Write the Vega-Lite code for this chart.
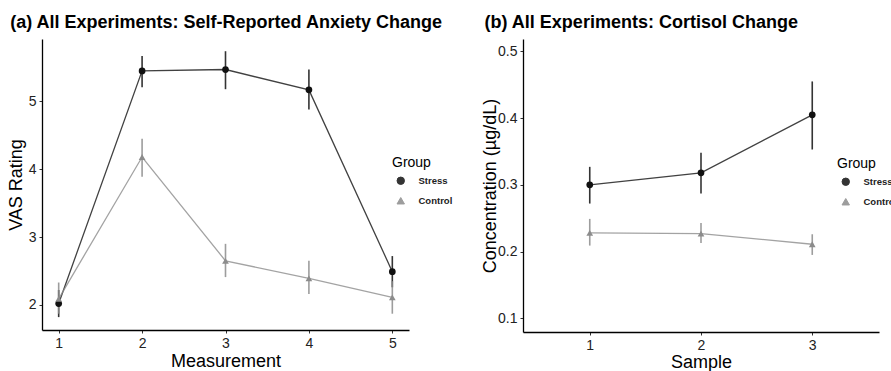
{
  "$schema": "https://vega.github.io/schema/vega-lite/v6.json",
  "padding": {"left": 7, "top": 14, "right": 0, "bottom": 0},
  "background": "white",
  "config": {
    "font": "Liberation Sans",
    "view": {"stroke": null},
    "axis": {"grid": false, "domainColor": "#000", "domainWidth": 1.3, "tickColor": "#333", "tickSize": 3, "tickWidth": 1, "labelFontSize": 14, "labelColor": "#222", "labelPadding": 3, "titleFontSize": 18, "titleFontWeight": "normal", "titleColor": "#000"},
    "title": {"fontSize": 18, "fontWeight": "bold", "anchor": "start", "frame": "bounds", "color": "#000", "offset": 7, "dx": 3},
    "legend": {"titleFontSize": 14, "titleFontWeight": "normal", "titleColor": "#000", "titlePadding": 6, "labelFontSize": 9.5, "labelFontWeight": "bold", "labelColor": "#222", "labelOffset": 13, "rowPadding": 8, "symbolSize": 55, "symbolStrokeWidth": 1, "symbolOffset": 4},
    "concat": {"spacing": 28}
  },
  "datasets": {
    "anx": [
      {"Measurement": 1, "Group": "Stress", "mean": 2.02, "lo": 1.82, "hi": 2.22},
      {"Measurement": 2, "Group": "Stress", "mean": 5.45, "lo": 5.21, "hi": 5.67},
      {"Measurement": 3, "Group": "Stress", "mean": 5.47, "lo": 5.18, "hi": 5.74},
      {"Measurement": 4, "Group": "Stress", "mean": 5.17, "lo": 4.88, "hi": 5.47},
      {"Measurement": 5, "Group": "Stress", "mean": 2.49, "lo": 2.26, "hi": 2.72},
      {"Measurement": 1, "Group": "Control", "mean": 2.09, "lo": 1.87, "hi": 2.33},
      {"Measurement": 2, "Group": "Control", "mean": 4.18, "lo": 3.89, "hi": 4.45},
      {"Measurement": 3, "Group": "Control", "mean": 2.65, "lo": 2.41, "hi": 2.9},
      {"Measurement": 4, "Group": "Control", "mean": 2.39, "lo": 2.16, "hi": 2.65},
      {"Measurement": 5, "Group": "Control", "mean": 2.11, "lo": 1.87, "hi": 2.35}
    ],
    "cort": [
      {"Sample": 1, "Group": "Stress", "mean": 0.3, "lo": 0.272, "hi": 0.327},
      {"Sample": 2, "Group": "Stress", "mean": 0.318, "lo": 0.287, "hi": 0.348},
      {"Sample": 3, "Group": "Stress", "mean": 0.405, "lo": 0.353, "hi": 0.455},
      {"Sample": 1, "Group": "Control", "mean": 0.228, "lo": 0.209, "hi": 0.249},
      {"Sample": 2, "Group": "Control", "mean": 0.227, "lo": 0.213, "hi": 0.243},
      {"Sample": 3, "Group": "Control", "mean": 0.211, "lo": 0.195, "hi": 0.226}
    ]
  },
  "hconcat": [
    {
      "title": {"text": "(a) All Experiments: Self-Reported Anxiety Change"},
      "width": 367,
      "height": 291,
      "data": {"name": "anx"},
      "encoding": {
        "x": {"field": "Measurement", "type": "quantitative", "scale": {"domain": [0.8, 5.2], "nice": false, "zero": false}, "axis": {"values": [1, 2, 3, 4, 5], "title": "Measurement", "titlePadding": 2}},
        "color": {"field": "Group", "type": "nominal", "scale": {"domain": ["Stress", "Control"], "range": ["#111111", "#8c8c8c"]}, "legend": {"title": "Group", "orient": "none", "legendX": 350, "legendY": 117}}
      },
      "layer": [
        {"mark": {"type": "rule", "strokeWidth": 1.6, "opacity": 0.85},
         "encoding": {"y": {"field": "lo", "type": "quantitative", "scale": {"domain": [1.63, 5.92], "nice": false, "zero": false}, "axis": {"values": [2, 3, 4, 5], "format": "d", "title": "VAS Rating", "titlePadding": 3}}, "y2": {"field": "hi"}}},
        {"mark": {"type": "line", "strokeWidth": 1.3, "opacity": 0.8},
         "encoding": {"y": {"field": "mean", "type": "quantitative"}}},
        {"mark": {"type": "point", "filled": true, "size": 45, "opacity": 1},
         "encoding": {"y": {"field": "mean", "type": "quantitative"}, "shape": {"field": "Group", "type": "nominal", "scale": {"domain": ["Stress", "Control"], "range": ["circle", "triangle-up"]}, "legend": {"title": "Group", "orient": "none", "legendX": 350, "legendY": 117}}}}
      ]
    },
    {
      "title": {"text": "(b) All Experiments: Cortisol Change"},
      "width": 356,
      "height": 293,
      "data": {"name": "cort"},
      "encoding": {
        "x": {"field": "Sample", "type": "quantitative", "scale": {"domain": [0.4, 3.6], "nice": false, "zero": false}, "axis": {"values": [1, 2, 3], "title": "Sample", "titlePadding": 1}},
        "color": {"field": "Group", "type": "nominal", "scale": {"domain": ["Stress", "Control"], "range": ["#111111", "#8c8c8c"]}, "legend": {"title": "Group", "orient": "none", "legendX": 314, "legendY": 118}}
      },
      "layer": [
        {"mark": {"type": "rule", "strokeWidth": 1.6, "opacity": 0.85},
         "encoding": {"y": {"field": "lo", "type": "quantitative", "scale": {"domain": [0.0795, 0.5186], "nice": false, "zero": false}, "axis": {"values": [0.1, 0.2, 0.3, 0.4, 0.5], "format": ".1f", "title": "Concentration (µg/dL)", "titlePadding": -2}}, "y2": {"field": "hi"}}},
        {"mark": {"type": "line", "strokeWidth": 1.3, "opacity": 0.8},
         "encoding": {"y": {"field": "mean", "type": "quantitative"}}},
        {"mark": {"type": "point", "filled": true, "size": 45, "opacity": 1},
         "encoding": {"y": {"field": "mean", "type": "quantitative"}, "shape": {"field": "Group", "type": "nominal", "scale": {"domain": ["Stress", "Control"], "range": ["circle", "triangle-up"]}, "legend": {"title": "Group", "orient": "none", "legendX": 314, "legendY": 118}}}}
      ]
    }
  ],
  "resolve": {"legend": {"color": "independent", "shape": "independent"}}
}
